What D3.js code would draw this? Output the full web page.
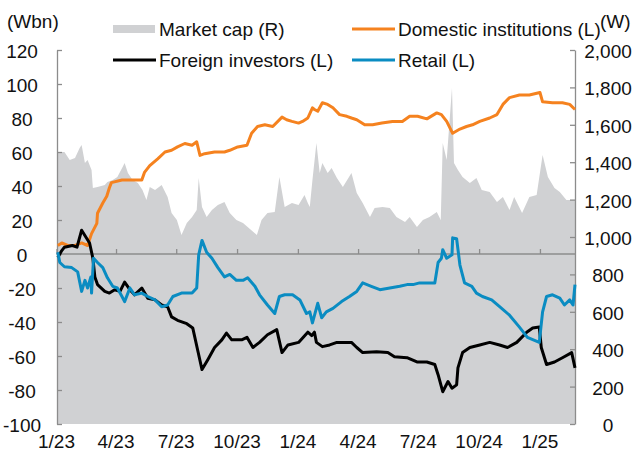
<html>
<script src="https://cdnjs.cloudflare.com/ajax/libs/d3/7.8.5/d3.min.js"></script>
<body style="margin:0; background:#fff;">
  <div id="chart"></div>
</body>
<script>
// market cap, W (right axis)
var marketCap = [
  ["2023-01-02",1440],["2023-01-03",1455],["2023-01-13",1455],["2023-01-21",1412],["2023-01-29",1423],
  ["2023-02-05",1476],["2023-02-08",1492],["2023-02-13",1396],["2023-02-17",1412],["2023-02-23",1358],
  ["2023-02-25",1262],["2023-03-04",1267],["2023-03-15",1278],["2023-03-19",1294],["2023-03-27",1305],
  ["2023-04-03",1321],["2023-04-11",1374],["2023-04-14",1396],["2023-04-19",1342],["2023-04-26",1305],
  ["2023-05-04",1289],["2023-05-11",1251],["2023-05-17",1198],["2023-05-22",1267],["2023-05-30",1251],
  ["2023-06-09",1278],["2023-06-18",1214],["2023-06-24",1128],["2023-07-02",1091],["2023-07-09",1011],
  ["2023-07-17",1075],["2023-07-25",1107],["2023-08-01",1144],["2023-08-04",1316],["2023-08-09",1160],
  ["2023-08-16",1107],["2023-08-24",1144],["2023-09-02",1171],["2023-09-12",1187],["2023-09-20",1128],
  ["2023-09-30",1091],["2023-10-10",1075],["2023-10-17",1054],["2023-10-31",1011],["2023-11-07",1091],
  ["2023-11-16",1128],["2023-11-27",1134],["2023-12-04",1321],["2023-12-12",1160],["2023-12-23",1182],
  ["2024-01-02",1171],["2024-01-11",1225],["2024-01-16",1182],["2024-01-19",1160],["2024-01-23",1305],
  ["2024-01-29",1503],["2024-02-03",1342],["2024-02-07",1396],["2024-02-15",1342],["2024-02-21",1369],
  ["2024-02-29",1316],["2024-03-09",1267],["2024-03-22",1342],["2024-03-30",1235],["2024-04-08",1182],
  ["2024-04-19",1107],["2024-04-26",1155],["2024-05-08",1160],["2024-05-19",1155],["2024-05-29",1107],
  ["2024-06-11",1080],["2024-06-18",1107],["2024-06-29",1054],["2024-07-08",1091],["2024-07-18",1107],
  ["2024-07-29",1134],["2024-08-04",1091],["2024-08-07",1503],["2024-08-13",1412],["2024-08-21",1797],
  ["2024-08-24",1396],["2024-08-30",1358],["2024-09-06",1321],["2024-09-17",1289],["2024-09-27",1316],
  ["2024-10-05",1251],["2024-10-17",1241],["2024-10-28",1187],["2024-11-06",1214],["2024-11-16",1144],
  ["2024-11-23",1214],["2024-12-05",1128],["2024-12-16",1214],["2024-12-27",1225],["2025-01-05",1439],
  ["2025-01-13",1321],["2025-01-23",1262],["2025-01-31",1241],["2025-02-10",1198],["2025-02-18",1198],
  ["2025-02-23",1198]
];

// domestic institutions, Wbn (left axis)
var domestic = [
  ["2023-01-03",5],["2023-01-09",6.5],["2023-01-18",5],["2023-01-29",5],["2023-02-08",6.5],
  ["2023-02-17",5],["2023-02-23",12],["2023-03-03",18],["2023-03-04",24],["2023-03-12",30],
  ["2023-03-18",34],["2023-03-22",39],["2023-03-25",42],["2023-04-10",43.5],["2023-04-25",43.5],
  ["2023-05-10",43.5],["2023-05-14",48],["2023-05-22",52],["2023-06-03",56],["2023-06-14",60],
  ["2023-06-24",61],["2023-07-03",63],["2023-07-14",65],["2023-07-25",64],["2023-08-01",66],
  ["2023-08-06",58],["2023-08-13",59],["2023-08-28",60],["2023-09-12",60],["2023-09-20",61],
  ["2023-10-02",63],["2023-10-16",64],["2023-10-23",71],["2023-11-01",75],["2023-11-12",76],
  ["2023-11-24",75],["2023-12-08",80.5],["2023-12-15",79],["2023-12-23",78],["2024-01-02",77],
  ["2024-01-08",78],["2024-01-16",80],["2024-01-23",86],["2024-01-26",85],["2024-01-31",84],
  ["2024-02-07",89],["2024-02-15",88],["2024-02-23",86],["2024-03-04",82],["2024-03-15",81],
  ["2024-03-22",80],["2024-03-30",79],["2024-04-11",76],["2024-04-23",76],["2024-05-07",77],
  ["2024-05-23",78],["2024-06-07",78],["2024-06-18",81],["2024-06-30",81],["2024-07-14",79.5],
  ["2024-07-29",83],["2024-08-05",82],["2024-08-13",78],["2024-08-22",71],["2024-09-02",73.5],
  ["2024-09-12",75],["2024-09-21",76],["2024-10-02",78],["2024-10-17",80],["2024-10-28",82],
  ["2024-11-06",88],["2024-11-16",92],["2024-12-01",93.5],["2024-12-16",93.5],["2025-01-01",95],
  ["2025-01-05",89.5],["2025-01-20",89],["2025-02-04",89],["2025-02-15",88],["2025-02-23",85]
];

// foreign investors, Wbn (left axis)
var foreign = [
  ["2023-01-03",-2],["2023-01-09",2],["2023-01-13",4],["2023-01-25",5],["2023-02-01",4],
  ["2023-02-08",14],["2023-02-16",9],["2023-02-20",6.5],["2023-02-25",-2.5],["2023-02-28",-13.5],
  ["2023-03-04",-18],["2023-03-15",-22],["2023-03-22",-23],["2023-03-30",-21],["2023-04-07",-22],
  ["2023-04-14",-16.5],["2023-04-22",-21],["2023-04-29",-24],["2023-05-10",-20],["2023-05-19",-26],
  ["2023-05-30",-27],["2023-06-09",-30],["2023-06-18",-31],["2023-06-24",-37],["2023-07-03",-39],
  ["2023-07-17",-41],["2023-07-26",-43.5],["2023-08-03",-57.5],["2023-08-09",-68],["2023-08-18",-62],
  ["2023-08-28",-55],["2023-09-08",-50.5],["2023-09-15",-46.5],["2023-09-23",-50.5],["2023-10-08",-50.5],
  ["2023-10-16",-49],["2023-10-25",-55],["2023-11-04",-52],["2023-11-16",-47.5],["2023-11-30",-44.5],
  ["2023-12-08",-58],["2023-12-17",-53.5],["2024-01-02",-52],["2024-01-16",-46],["2024-01-22",-48],
  ["2024-01-26",-46],["2024-01-29",-52],["2024-02-07",-54.5],["2024-02-18",-53.5],["2024-02-29",-52],
  ["2024-03-12",-52],["2024-03-22",-52],["2024-03-30",-55],["2024-04-08",-58],["2024-04-29",-57.5],
  ["2024-05-16",-58],["2024-05-26",-60.5],["2024-06-14",-61],["2024-06-29",-63.5],["2024-07-14",-63.5],
  ["2024-07-26",-65],["2024-07-31",-71],["2024-08-07",-81],["2024-08-15",-75],["2024-08-21",-79],
  ["2024-08-28",-77],["2024-08-30",-67],["2024-09-06",-58],["2024-09-17",-55],["2024-10-02",-53.5],
  ["2024-10-17",-52],["2024-11-01",-53.5],["2024-11-13",-55],["2024-11-27",-52],["2024-12-12",-46],
  ["2024-12-21",-43.5],["2024-12-31",-43],["2025-01-03",-55],["2025-01-11",-65],["2025-01-23",-63.5],
  ["2025-02-04",-61],["2025-02-18",-58],["2025-02-23",-67]
];

// retail, Wbn (left axis)
var retail = [
  ["2023-01-03",1],["2023-01-06",-5],["2023-01-13",-7.5],["2023-01-24",-8],["2023-02-02",-10.5],
  ["2023-02-08",-22],["2023-02-13",-15.5],["2023-02-17",-20],["2023-02-22",-13.5],["2023-02-23",-23],
  ["2023-02-26",-2.5],["2023-03-04",-5],["2023-03-12",-8],["2023-03-19",-14],["2023-03-27",-19],
  ["2023-04-03",-20],["2023-04-10",-25],["2023-04-14",-28],["2023-04-22",-20],["2023-04-29",-24],
  ["2023-05-10",-23],["2023-05-19",-25],["2023-05-30",-27],["2023-06-09",-31],["2023-06-18",-30],
  ["2023-06-26",-25],["2023-07-09",-23],["2023-07-25",-23],["2023-08-01",-20],["2023-08-04",-0.5],
  ["2023-08-09",8],["2023-08-16",1],["2023-08-24",-2.5],["2023-09-02",-8],["2023-09-12",-13.5],
  ["2023-09-20",-12],["2023-09-30",-15.5],["2023-10-10",-15.5],["2023-10-17",-14],["2023-10-28",-19],
  ["2023-11-04",-24],["2023-11-16",-30],["2023-11-27",-35],["2023-12-04",-25],["2023-12-12",-24],
  ["2023-12-24",-24],["2024-01-04",-27],["2024-01-14",-35],["2024-01-19",-34],["2024-01-23",-40.5],
  ["2024-01-31",-29],["2024-02-06",-37.5],["2024-02-13",-34],["2024-02-23",-32],["2024-03-07",-28],
  ["2024-03-19",-25],["2024-03-30",-22],["2024-04-08",-17],["2024-04-21",-19],["2024-05-04",-21],
  ["2024-05-19",-20],["2024-06-03",-19],["2024-06-14",-18],["2024-06-23",-18],["2024-07-03",-17],
  ["2024-07-14",-17],["2024-07-26",-17],["2024-07-31",-5],["2024-08-05",-2.5],["2024-08-07",2.5],
  ["2024-08-13",-2.5],["2024-08-21",-0.5],["2024-08-22",9.5],["2024-08-28",9],["2024-09-02",-6.5],
  ["2024-09-09",-17],["2024-09-20",-19],["2024-09-27",-23],["2024-10-06",-25],["2024-10-20",-27],
  ["2024-11-01",-31],["2024-11-16",-36],["2024-12-01",-43],["2024-12-13",-49],["2024-12-31",-52],
  ["2025-01-05",-34],["2025-01-11",-25],["2025-01-20",-24],["2025-01-31",-26],["2025-02-07",-30],
  ["2025-02-15",-27],["2025-02-20",-30],["2025-02-23",-18]
];

var leftTicks = [-100, -80, -60, -40, -20, 0, 20, 40, 60, 80, 100, 120];
var rightTicks = [0, 200, 400, 600, 800, 1000, 1200, 1400, 1600, 1800, 2000];
var quarterDates = ["2023-01-01","2023-04-01","2023-07-01","2023-10-01","2024-01-01",
                    "2024-04-01","2024-07-01","2024-10-01","2025-01-01"];
var quarterLabels = ["1/23","4/23","7/23","10/23","1/24","4/24","7/24","10/24","1/25"];

var parse = d3.timeParse("%Y-%m-%d");
var FONT = "'Liberation Sans Narrow', 'Arial Narrow', 'Liberation Sans', sans-serif";

var svg = d3.select("#chart").append("svg")
    .attr("width", 633)
    .attr("height", 459)
    .style("font-family", FONT);

var X = d3.scaleTime().domain([parse("2023-01-01"), parse("2025-02-23")]).range([56.5, 575]);
var YL = d3.scaleLinear().domain([-100, 120]).range([424, 50]);
var YR = d3.scaleLinear().domain([0, 2000]).range([424, 50]);

// market cap area
svg.append("path")
    .datum(marketCap)
    .attr("fill", "#d0d1d3")
    .attr("d", d3.area()
        .x(d => X(parse(d[0])))
        .y0(YR(0))
        .y1(d => YR(d[1])));

// axes
var grey = "#8c8c8c";
var gl = svg.append("g").attr("transform", "translate(57,0)")
    .call(d3.axisRight(YL).tickValues(leftTicks).tickSize(5).tickSizeOuter(0).tickFormat(""));
var gr = svg.append("g").attr("transform", "translate(575,0)")
    .call(d3.axisLeft(YR).tickValues(rightTicks).tickSize(5).tickSizeOuter(0).tickFormat(""));
var gx = svg.append("g").attr("transform", "translate(0," + YL(0) + ")")
    .call(d3.axisTop(X).tickValues(quarterDates.map(parse)).tickSize(5).tickSizeOuter(0).tickFormat(""));
[gl, gr, gx].forEach(g => {
    g.selectAll("path,line").attr("stroke", grey).attr("stroke-width", 1.3);
});
gx.select(".domain").attr("d", "M" + X.range()[0] + ",0H" + X.range()[1]);

// tick labels
svg.selectAll(".ltick").data(leftTicks).enter().append("text")
    .attr("x", 22).attr("y", d => YL(d) + 8)
    .attr("text-anchor", "middle").attr("font-size", 19).attr("fill", "#111")
    .text(d => d);
svg.selectAll(".rtick").data(rightTicks).enter().append("text")
    .attr("x", 608).attr("y", d => YR(d) + 8)
    .attr("text-anchor", "middle").attr("font-size", 19).attr("fill", "#111")
    .text(d => d3.format(",")(d));
svg.selectAll(".xtick").data(quarterDates).enter().append("text")
    .attr("x", d => X(parse(d))).attr("y", 448)
    .attr("text-anchor", "middle").attr("font-size", 19).attr("fill", "#111")
    .text((d, i) => quarterLabels[i]);

svg.append("text").attr("x", 7).attr("y", 28).attr("font-size", 19).attr("fill", "#111").text("(Wbn)");
svg.append("text").attr("x", 600).attr("y", 28).attr("font-size", 19).attr("fill", "#111").text("(W)");

// lines
var line = d3.line().x(d => X(parse(d[0]))).y(d => YL(d[1]));
var series = [
    { data: domestic, color: "#f5821f" },
    { data: foreign, color: "#000000" },
    { data: retail, color: "#0a8cc2" }
];
series.forEach(s => {
    svg.append("path").datum(s.data)
        .attr("fill", "none")
        .attr("stroke", s.color)
        .attr("stroke-width", 3)
        .attr("stroke-linejoin", "round")
        .attr("d", line);
});

// legend
var legend = [
    { label: "Market cap (R)", kind: "area", color: "#d0d1d3", x: 113, y: 29 },
    { label: "Domestic institutions (L)", kind: "line", color: "#f5821f", x: 352, y: 29 },
    { label: "Foreign investors (L)", kind: "line", color: "#000000", x: 113, y: 60 },
    { label: "Retail (L)", kind: "line", color: "#0a8cc2", x: 352, y: 60 }
];
legend.forEach(l => {
    if (l.kind == "area") {
        svg.append("rect").attr("x", l.x).attr("y", l.y - 4).attr("width", 42).attr("height", 8).attr("fill", l.color);
    } else {
        svg.append("line").attr("x1", l.x).attr("x2", l.x + 43).attr("y1", l.y).attr("y2", l.y)
            .attr("stroke", l.color).attr("stroke-width", 3);
    }
    svg.append("text").attr("x", l.x + 46).attr("y", l.y + 6.5)
        .attr("font-size", 19).attr("fill", "#111").text(l.label);
});
</script>
</html>
